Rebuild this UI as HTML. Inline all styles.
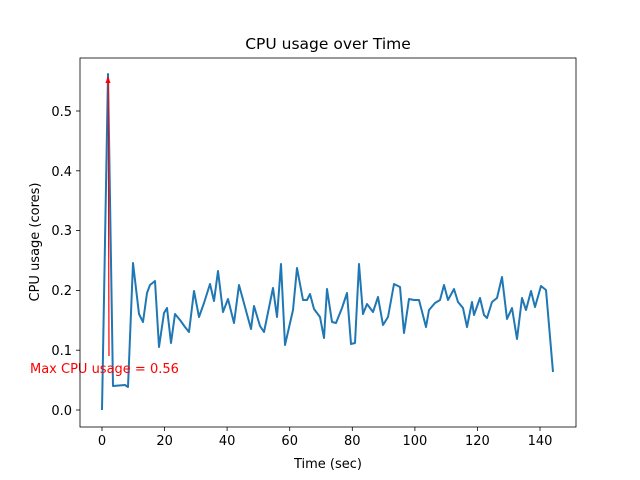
<!DOCTYPE html>
<html><head><style>body{margin:0;background:#fff}svg{display:block}text{font-family:"DejaVu Sans","Liberation Sans",sans-serif}</style></head><body>
<svg width="640" height="480" xmlns="http://www.w3.org/2000/svg">
<rect width="640" height="480" fill="#fff"/>
<polyline fill="none" stroke="#1f77b4" stroke-width="2" stroke-linejoin="round" points="102,410 108,74 113,386 125,385 128,387 133,263 139,314 143,322 147,293 150,285 155,281 159,347 164,313 167,308 171,343 175,314 180,320 185,327 189,332 194,291 199,317 204,303 210,284 214,301 218,271 223,312 228,299 234,323 239,285 245,307 251,329 254,306 260,326 264,332 273,288 277,317 281,264 285,345 293,310 297,268 303,300 307,300 310,294 314,309 320,317 324,338 327,289 332,322 336,323 342,308 347,293 351,344 355,343 359,264 363,314 367,304 373,312 378,297 383,325 388,317 394,284 400,287 404,333 409,299 414,300 419,300 426,327 429,310 435,303 440,300 444,285 448,300 454,289 458,302 463,308 467,327 472,302 474,315 480,298 484,315 487,318 492,302 497,298 502,277 507,319 512,308 517,339 522,298 526,310 531,291 535,307 541,286 546,290 553,372"/>
<line x1="109" y1="356" x2="108.2" y2="80" stroke="red" stroke-width="1.2"/>
<path d="M108,76 L105.5,83 L110.5,83 Z" fill="red"/>
<text x="30" y="373" font-size="13" fill="red">Max CPU usage = 0.56</text>
<rect x="80" y="58" width="496" height="369" fill="none" stroke="#000" stroke-width="0.8"/>
<g stroke="#000" stroke-width="0.8">
<line x1="102" y1="427" x2="102" y2="431"/><line x1="164.6" y1="427" x2="164.6" y2="431"/><line x1="227.1" y1="427" x2="227.1" y2="431"/><line x1="289.7" y1="427" x2="289.7" y2="431"/><line x1="352.3" y1="427" x2="352.3" y2="431"/><line x1="414.9" y1="427" x2="414.9" y2="431"/><line x1="477.4" y1="427" x2="477.4" y2="431"/><line x1="540" y1="427" x2="540" y2="431"/>
<line x1="76" y1="410" x2="80" y2="410"/><line x1="76" y1="350.2" x2="80" y2="350.2"/><line x1="76" y1="290.4" x2="80" y2="290.4"/><line x1="76" y1="230.6" x2="80" y2="230.6"/><line x1="76" y1="170.8" x2="80" y2="170.8"/><line x1="76" y1="111" x2="80" y2="111"/>
</g>
<g font-size="13" fill="#000" text-anchor="middle">
<text x="102" y="445">0</text><text x="164.6" y="445">20</text><text x="227.1" y="445">40</text><text x="289.7" y="445">60</text><text x="352.3" y="445">80</text><text x="414.9" y="445">100</text><text x="477.4" y="445">120</text><text x="540" y="445">140</text>
<text x="328" y="468">Time (sec)</text>
<text x="328" y="49" font-size="15.5">CPU usage over Time</text>
<text transform="translate(39,242) rotate(-90)">CPU usage (cores)</text>
</g>
<g font-size="13" fill="#000" text-anchor="end">
<text x="72" y="415">0.0</text><text x="72" y="355">0.1</text><text x="72" y="295">0.2</text><text x="72" y="235">0.3</text><text x="72" y="176">0.4</text><text x="72" y="116">0.5</text>
</g>
</svg>
</body></html>
